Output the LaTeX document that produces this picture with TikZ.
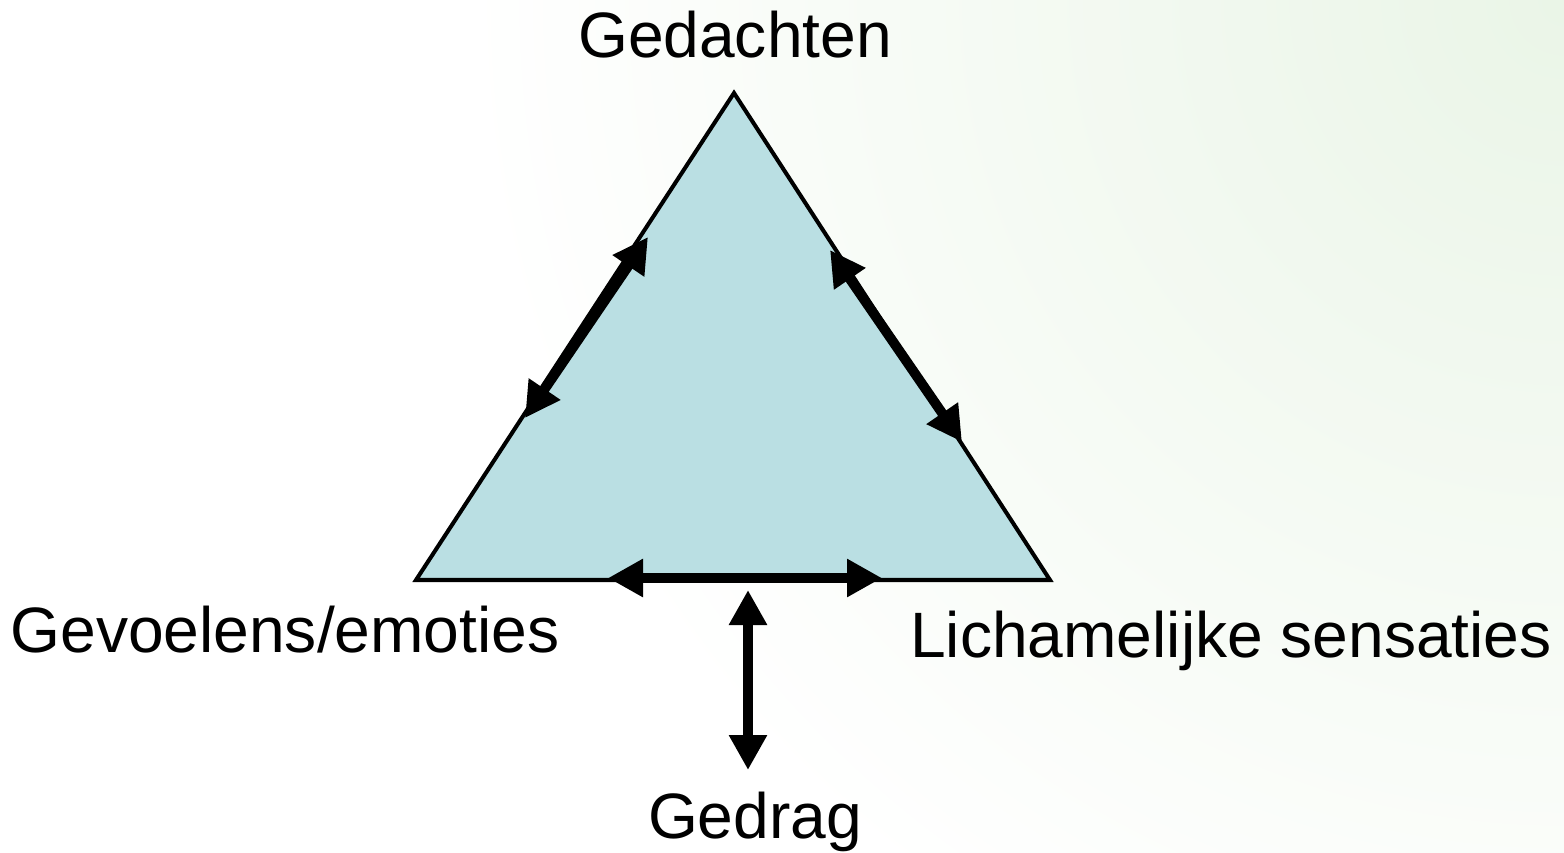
\documentclass[tikz,border=0pt]{standalone}
\usepackage{fontspec}
\setmainfont{Liberation Sans}
\usetikzlibrary{arrows.meta}
\definecolor{TriFill}{HTML}{BADFE3}
\definecolor{MintBg}{HTML}{EAF5E7}
\begin{document}
\begin{tikzpicture}[x=0.02cm,y=-0.02cm,
          lbl/.style={font=\fontsize{36.5}{44}\selectfont,inner sep=0pt,anchor=base},
          tri/.style={draw=black,line width=2.3pt,fill=TriFill},
          dbl/.style={{Triangle[length=0.7cm,width=0.72cm]}-{Triangle[length=0.7cm,width=0.72cm]},
                      line width=5.6pt,black}]
        \useasboundingbox (0,0) rectangle (1564,852);
        % faint green corner of the slide
        \begin{scope}
          \clip (0,0) rectangle (1564,852);
          \fill[white] (0,0) rectangle (1564,852);
          \shade[inner color=MintBg,outer color=white] (1564,0) circle (1100);
        \end{scope}
        \coordinate (top) at (734,93);
        \coordinate (lft) at (416,580);
        \coordinate (rgt) at (1050,580);
        \filldraw[tri] (top) -- (lft) -- (rgt) -- cycle;
        % arrows along the sides
        \coordinate (lA) at (525,418);
        \coordinate (lB) at (648,237);
        \coordinate (rA) at (830,250);
        \coordinate (rB) at (962,442);
        \coordinate (bA) at (608,578);
        \coordinate (bB) at (882,578);
        \coordinate (vA) at (748,590);
        \coordinate (vB) at (748,770);
        \draw[dbl] (lA) -- (lB);
        \draw[dbl] (rA) -- (rB);
        \draw[dbl] (bA) -- (bB);
        \draw[dbl] (vA) -- (vB);
        \node[lbl] (ged)  at (735,57)  {Gedachten};
        \node[lbl] (gev)  at (285,652) {Gevoelens/emoties};
        \node[lbl] (lich) at (1231,657) {Lichamelijke sensaties};
        \node[lbl] (gdr)  at (755,838) {Gedrag};
      \end{tikzpicture}
\end{document}
